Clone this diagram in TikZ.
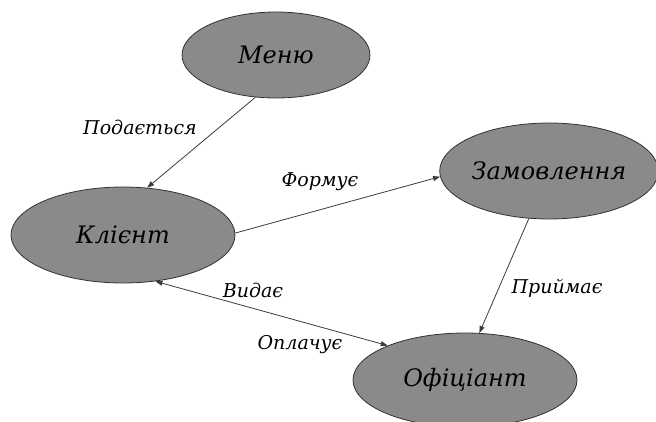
\documentclass[tikz,border=0pt]{standalone}
\usepackage{fontspec}
\setmainfont{DejaVu Serif}
\usetikzlibrary{shapes.geometric,arrows.meta}
\definecolor{ellfill}{RGB}{138,138,138}
\definecolor{ellline}{RGB}{50,50,50}
\definecolor{conline}{RGB}{60,60,60}
\tikzset{
  entity/.style={ellipse, draw=ellline, line width=0.8pt, fill=ellfill, inner sep=0pt,
    font=\itshape\fontsize{24}{28}\selectfont},
  rel/.style={draw=conline, line width=0.8pt, -{Triangle[length=7pt,width=5pt]}},
  birel/.style={draw=conline, line width=0.8pt, {Triangle[length=7pt,width=5pt]}-{Triangle[length=7pt,width=5pt]}},
  lbl/.style={font=\itshape\fontsize{19}{22}\selectfont, inner sep=0pt}
}
\begin{document}
\begin{tikzpicture}[x=1pt,y=-1pt]
\useasboundingbox (0,0) rectangle (656,421);
\node[entity, minimum width=188pt, minimum height=86pt] (menu) at (276,55) {Меню};
\node[entity, minimum width=224pt, minimum height=96pt] (client) at (123,235) {Клієнт};
\node[entity, minimum width=212pt, minimum height=96pt] (order) at (549,171) {Замовлення};
\node[entity, minimum width=224pt, minimum height=94pt] (waiter) at (465,380) {Офіціант};

\draw[rel] (menu.-116) -- (client.63);
\draw[rel] (client.1) -- (order.183);
\draw[rel] (order.-113) -- (waiter.73);
\draw[birel] (client.-55) -- (waiter.156);

\node[lbl] (l1) at (140,127) {Подається};
\node[lbl] (l2) at (320,182) {Формує};
\node[lbl] (l3) at (557,288) {Приймає};
\node[lbl] (l4) at (253,290) {Видає};
\node[lbl] (l5) at (300,345) {Оплачує};
\end{tikzpicture}
\end{document}
